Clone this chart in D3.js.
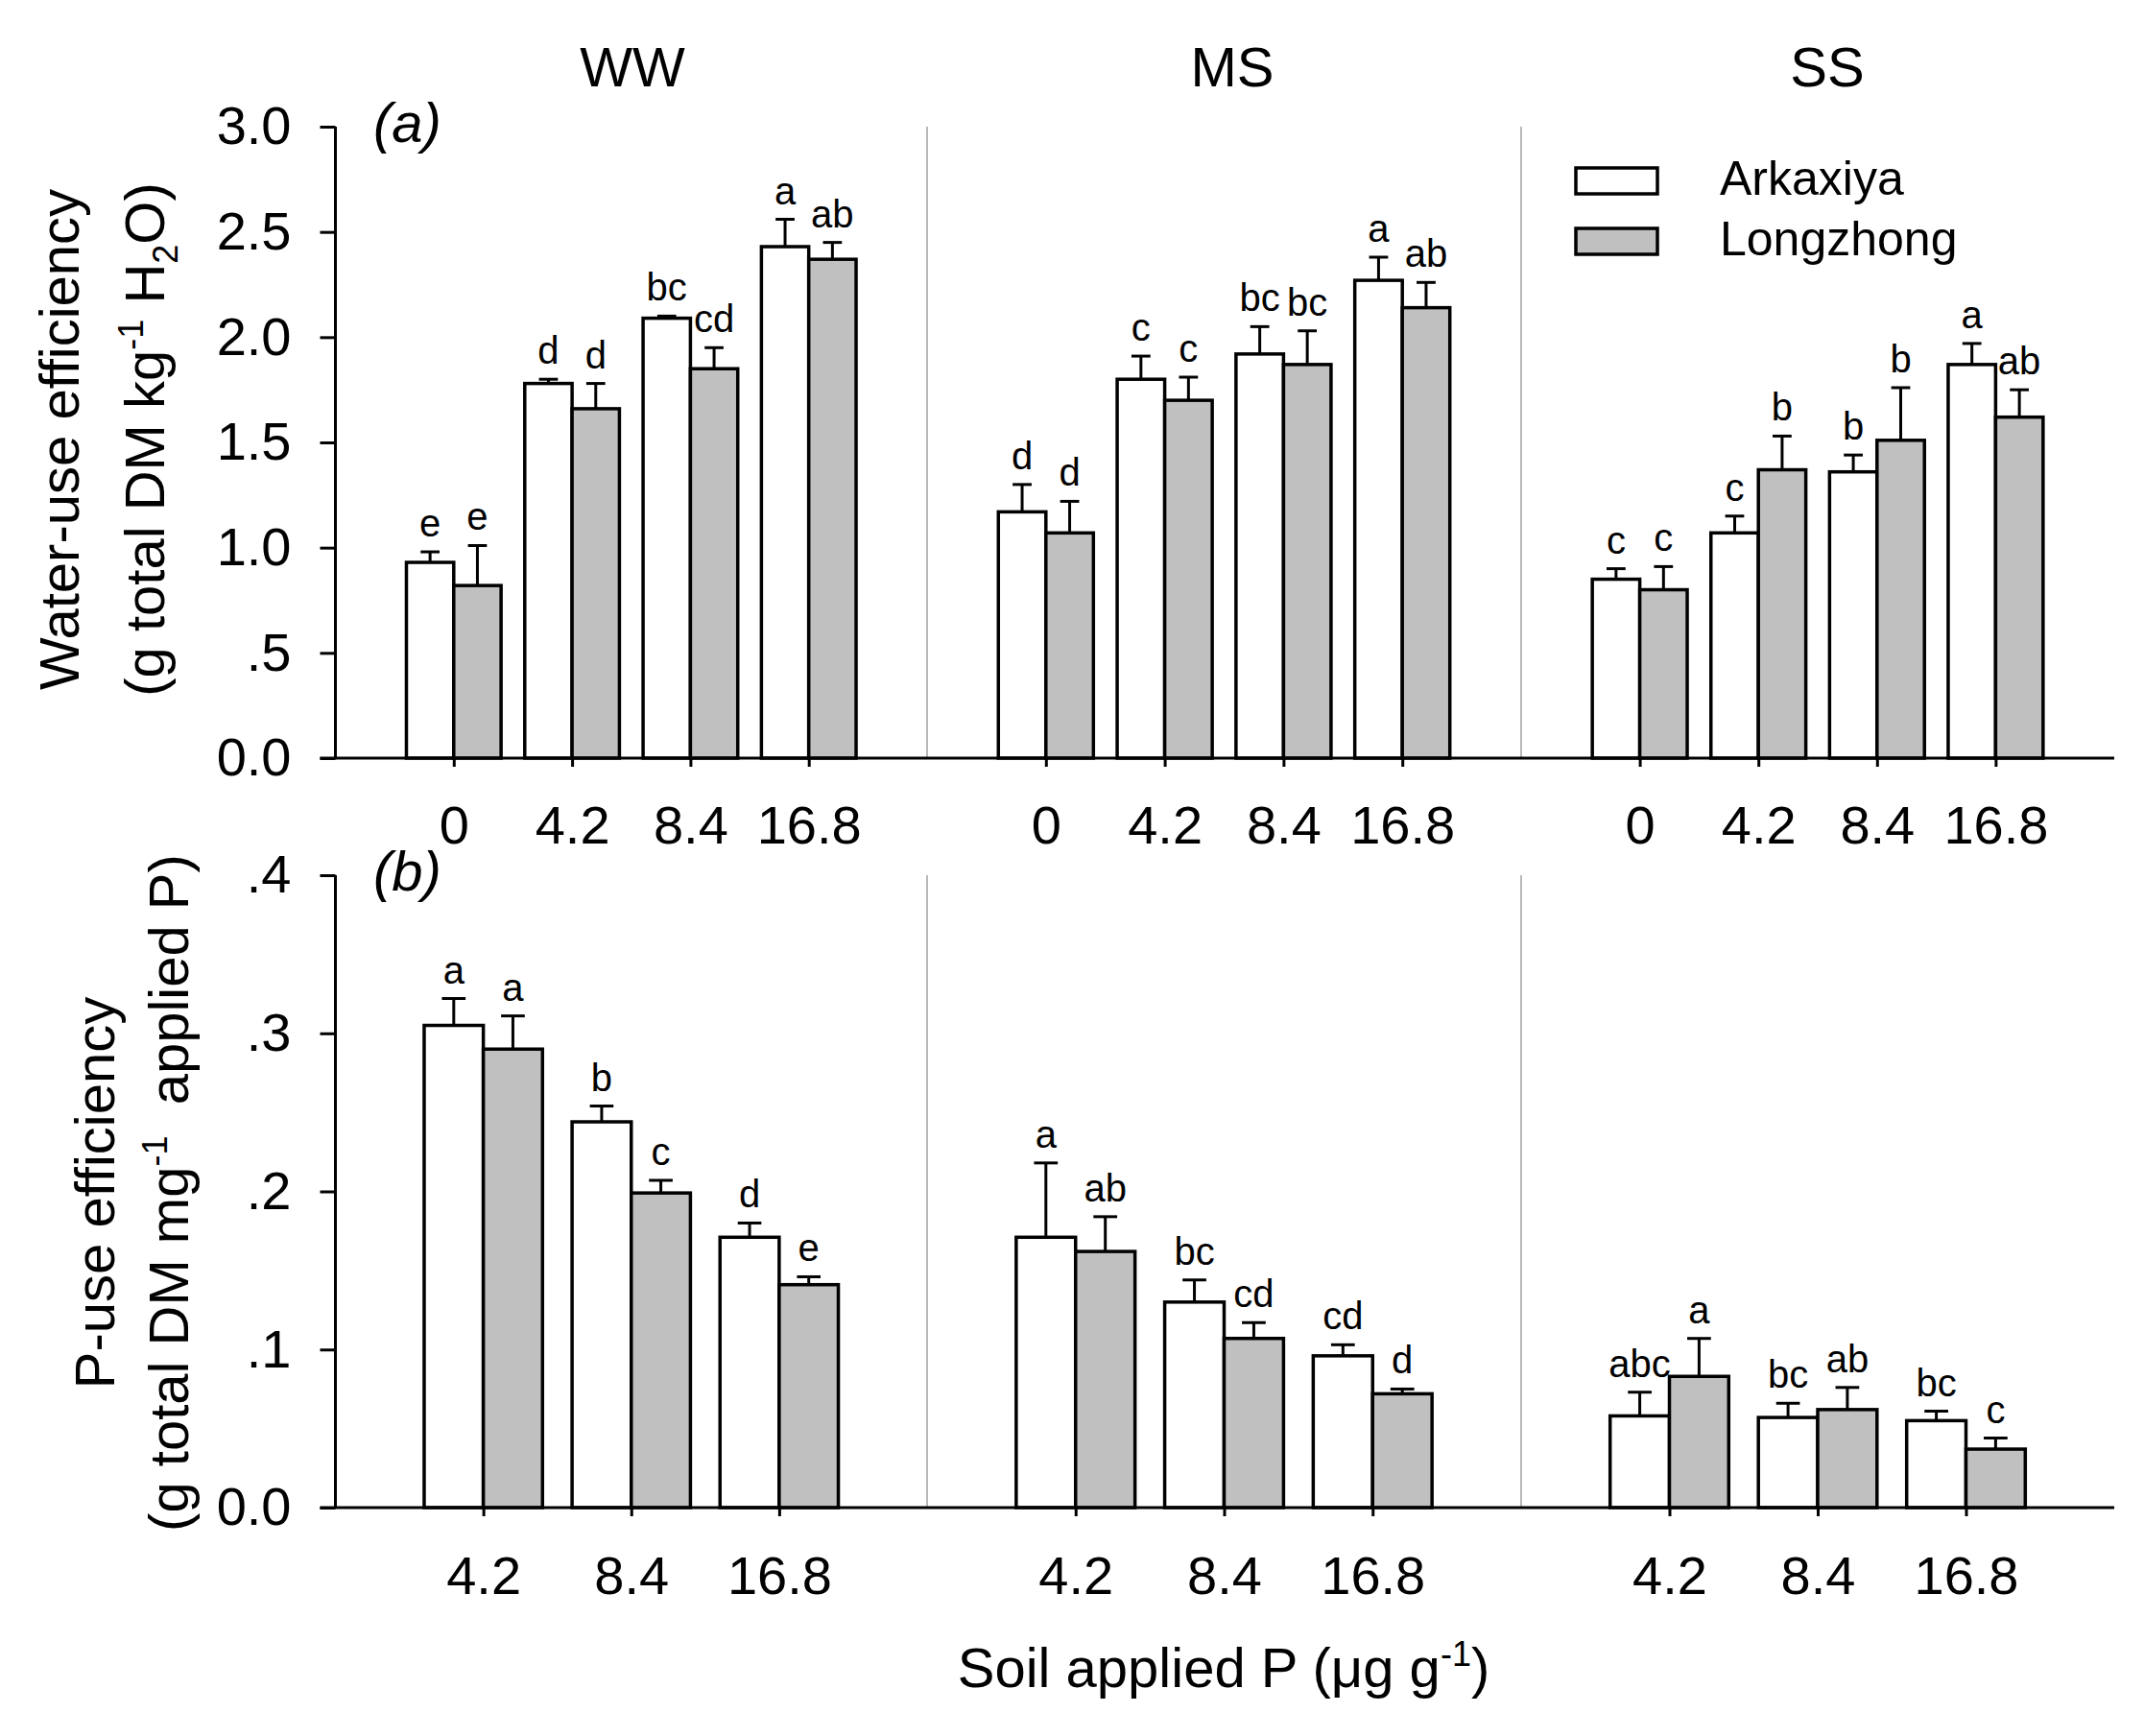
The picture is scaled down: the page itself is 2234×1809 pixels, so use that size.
<!DOCTYPE html>
<html>
<head>
<meta charset="utf-8">
<script src="https://cdn.jsdelivr.net/npm/d3@7"></script>
<style>
  body { margin: 0; background: #fff; }
  svg { display: block; font-family: "Liberation Sans", Arial, sans-serif; }
</style>
</head>
<body>
<svg id="chartSVG"></svg>
<script>
// data
let conditions = ['WW', 'MS', 'SS'];
let cultivars = ['Arkaxiya', 'Longzhong'];
let wueLevels = ['0', '4.2', '8.4', '16.8'];
let pueLevels = ['4.2', '8.4', '16.8'];
let wueTicks = [0, 0.5, 1.0, 1.5, 2.0, 2.5, 3.0];
let wueTickLabels = ['0.0', '.5', '1.0', '1.5', '2.0', '2.5', '3.0'];
let pueTicks = [0, 0.1, 0.2, 0.3, 0.4];
let pueTickLabels = ['0.0', '.1', '.2', '.3', '.4'];

// rows = WW, MS, SS ; columns = P levels
let wueArk = [[0.93, 1.78, 2.09, 2.43], [1.17, 1.80, 1.92, 2.27], [0.85, 1.07, 1.36, 1.87]];
let wueArkErr = [[0.05, 0.02, 0.01, 0.13], [0.13, 0.11, 0.13, 0.11], [0.05, 0.08, 0.08, 0.10]];
let wueLong = [[0.82, 1.66, 1.85, 2.37], [1.07, 1.70, 1.87, 2.14], [0.80, 1.37, 1.51, 1.62]];
let wueLongErr = [[0.19, 0.12, 0.10, 0.08], [0.15, 0.11, 0.16, 0.12], [0.11, 0.16, 0.25, 0.13]];
let wueArkLetters = [['e', 'd', 'bc', 'a'], ['d', 'c', 'bc', 'a'], ['c', 'c', 'b', 'a']];
let wueLongLetters = [['e', 'd', 'cd', 'ab'], ['d', 'c', 'bc', 'ab'], ['c', 'b', 'b', 'ab']];

let pueArk = [[0.305, 0.244, 0.171], [0.171, 0.130, 0.096], [0.058, 0.057, 0.055]];
let pueArkErr = [[0.017, 0.010, 0.009], [0.047, 0.014, 0.007], [0.015, 0.009, 0.006]];
let pueLong = [[0.290, 0.199, 0.141], [0.162, 0.107, 0.072], [0.083, 0.062, 0.037]];
let pueLongErr = [[0.021, 0.008, 0.005], [0.022, 0.010, 0.003], [0.024, 0.014, 0.007]];
let pueArkLetters = [['a', 'b', 'd'], ['a', 'bc', 'cd'], ['abc', 'bc', 'bc']];
let pueLongLetters = [['a', 'c', 'e'], ['ab', 'cd', 'd'], ['a', 'ab', 'c']];

let widthSVG = 2234;
let heightSVG = 1809;
let fills = ['#ffffff', '#c0c0c0'];

let SVG = d3.select('svg#chartSVG')
            .attr('width', widthSVG)
            .attr('height', heightSVG);

// panel edges along x
let panelEdges = [349.5, 966, 1585, 2203];

function drawRow(opts) {
  let y = d3.scaleLinear().domain(opts.domain).range(opts.range);
  let top = opts.range[1], base = opts.range[0];
  let G = SVG.append('g').attr('class', opts.cls);

  // dividers between panels
  G.selectAll('line.divider')
   .data([panelEdges[1], panelEdges[2]])
   .enter()
   .append('line')
   .attr('x1', d => d).attr('x2', d => d)
   .attr('y1', top).attr('y2', base)
   .style('stroke', '#b8b8b8')
   .style('stroke-width', 2);

  // y axis
  let yAxis = d3.axisLeft(y)
                .tickValues(opts.ticks)
                .tickFormat((d, i) => opts.tickLabels[i])
                .tickSize(16)
                .tickPadding(30);
  let yG = G.append('g')
            .attr('transform', `translate(${panelEdges[0]}, 0)`)
            .call(yAxis);
  yG.select('.domain').remove();
  yG.append('line')
    .attr('x1', 0).attr('x2', 0)
    .attr('y1', top).attr('y2', base)
    .style('stroke', '#000').style('stroke-width', 3);
  yG.selectAll('.tick line').style('stroke-width', 3);
  yG.selectAll('.tick text').style('font-size', '56px').style('fill', '#000')
    .style('font-family', '"Liberation Sans", Arial, sans-serif');

  conditions.forEach((cond, c) => {
    let x = d3.scalePoint()
              .domain(opts.levels)
              .range([panelEdges[c], panelEdges[c + 1]])
              .padding(1);
    let bw = x.step() * 0.4;
    let capW = bw * 0.4;

    let P = G.append('g').attr('class', 'panel ' + cond);

    // x axis
    let xAxis = d3.axisBottom(x).tickSize(9).tickPadding(opts.xPad).tickSizeOuter(0);
    let xG = P.append('g')
              .attr('transform', `translate(0, ${base})`)
              .call(xAxis);
    xG.select('.domain').remove();
    xG.selectAll('.tick line').style('stroke-width', 3);
    xG.selectAll('.tick text').style('font-size', '56px').style('fill', '#000')
      .style('font-family', '"Liberation Sans", Arial, sans-serif');

    let series = [
      { vals: opts.ark[c], errs: opts.arkErr[c], lets: opts.arkLet[c], off: -bw, fill: fills[0] },
      { vals: opts.long[c], errs: opts.longErr[c], lets: opts.longLet[c], off: 0, fill: fills[1] }
    ];

    series.forEach(s => {
      let rows = opts.levels.map((lv, i) => ({ lv: lv, v: s.vals[i], e: s.errs[i], t: s.lets[i] }));
      let g = P.append('g');

      g.selectAll('rect')
       .data(rows)
       .enter()
       .append('rect')
       .attr('x', d => x(d.lv) + s.off)
       .attr('width', bw)
       .attr('y', d => y(d.v))
       .attr('height', d => base - y(d.v))
       .style('fill', s.fill)
       .style('stroke', '#000')
       .style('stroke-width', 3.5);

      g.selectAll('line.whisker')
       .data(rows)
       .enter()
       .append('line')
       .attr('class', 'whisker')
       .attr('x1', d => x(d.lv) + s.off + bw / 2)
       .attr('x2', d => x(d.lv) + s.off + bw / 2)
       .attr('y1', d => y(d.v))
       .attr('y2', d => y(d.v + d.e))
       .style('stroke', '#000').style('stroke-width', 3);

      g.selectAll('line.cap')
       .data(rows)
       .enter()
       .append('line')
       .attr('class', 'cap')
       .attr('x1', d => x(d.lv) + s.off + bw / 2 - capW / 2)
       .attr('x2', d => x(d.lv) + s.off + bw / 2 + capW / 2)
       .attr('y1', d => y(d.v + d.e))
       .attr('y2', d => y(d.v + d.e))
       .style('stroke', '#000').style('stroke-width', 3);

      g.selectAll('text')
       .data(rows)
       .enter()
       .append('text')
       .text(d => d.t)
       .attr('x', d => x(d.lv) + s.off + bw / 2)
       .attr('y', d => y(d.v + d.e) - 16)
       .style('text-anchor', 'middle')
       .style('font-size', '40px');
    });

    // horizontal axis line of the panel
    P.append('line')
     .attr('x1', c == 0 ? panelEdges[0] - 16 : panelEdges[c])
     .attr('x2', panelEdges[c + 1])
     .attr('y1', base).attr('y2', base)
     .style('stroke', '#000').style('stroke-width', 3);
  });

  // panel tag
  G.append('text')
   .text(opts.tag)
   .attr('x', 389)
   .attr('y', top + 16)
   .style('font-size', '58px')
   .style('font-style', 'italic');

  // y title, two lines
  let t1 = G.append('text')
            .attr('transform', `translate(${opts.titleX[0]}, ${opts.titleY}) rotate(-90)`)
            .style('text-anchor', 'middle')
            .style('font-size', '58px')
            .text(opts.title1);
  let t2 = G.append('text')
            .attr('transform', `translate(${opts.titleX[1]}, ${opts.titleY}) rotate(-90)`)
            .style('text-anchor', 'middle')
            .style('font-size', '58px');
  opts.title2.forEach(part => {
    let ts = t2.append('tspan').text(part.t);
    if (part.sup) ts.attr('dy', -22).style('font-size', '36px');
    if (part.sub) ts.attr('dy', 14).style('font-size', '36px');
    if (part.back) ts.attr('dy', part.back);
  });
}

drawRow({
  cls: 'wue',
  domain: [0, 3],
  range: [790, 132],
  ticks: wueTicks,
  tickLabels: wueTickLabels,
  levels: wueLevels,
  xPad: 40,
  ark: wueArk, arkErr: wueArkErr, arkLet: wueArkLetters,
  long: wueLong, longErr: wueLongErr, longLet: wueLongLetters,
  tag: '(a)',
  titleX: [82, 171],
  titleY: 458,
  title1: 'Water-use efficiency',
  title2: [
    { t: '(g total DM kg' },
    { t: '-1', sup: true },
    { t: ' H', back: 22 },
    { t: '2', sub: true },
    { t: 'O)', back: -14 }
  ]
});

drawRow({
  cls: 'pue',
  domain: [0, 0.4],
  range: [1571, 912],
  ticks: pueTicks,
  tickLabels: pueTickLabels,
  levels: pueLevels,
  xPad: 41,
  ark: pueArk, arkErr: pueArkErr, arkLet: pueArkLetters,
  long: pueLong, longErr: pueLongErr, longLet: pueLongLetters,
  tag: '(b)',
  titleX: [119, 196],
  titleY: 1243,
  title1: 'P-use efficiency',
  title2: [
    { t: '(g total DM mg' },
    { t: '-1', sup: true },
    { t: '\u00a0 applied P)', back: 22 }
  ]
});

// column titles
SVG.append('g')
   .selectAll('text')
   .data(conditions)
   .enter()
   .append('text')
   .text(d => d)
   .attr('x', (d, i) => [659, 1284, 1904][i])
   .attr('y', 90)
   .style('text-anchor', 'middle')
   .style('font-size', '58px');

// x title
let xt = SVG.append('text')
            .attr('x', 1275)
            .attr('y', 1758)
            .style('text-anchor', 'middle')
            .style('font-size', '58px');
xt.append('tspan').text('Soil applied P (\u03bcg g');
xt.append('tspan').text('-1').attr('dy', -22).style('font-size', '36px');
xt.append('tspan').text(')').attr('dy', 22);

// legend
let legend = SVG.append('g')
                .attr('transform', 'translate(1642, 175)')
                .selectAll('g')
                .data(cultivars)
                .enter()
                .append('g')
                .attr('transform', (d, i) => `translate(0, ${i * 63})`);
legend.append('rect')
      .attr('width', 85)
      .attr('height', 27)
      .style('fill', (d, i) => fills[i])
      .style('stroke', '#000')
      .style('stroke-width', 3.5);
legend.append('text')
      .text(d => d)
      .attr('x', 150)
      .attr('y', 28)
      .style('font-size', '50px');
</script>
</body>
</html>
